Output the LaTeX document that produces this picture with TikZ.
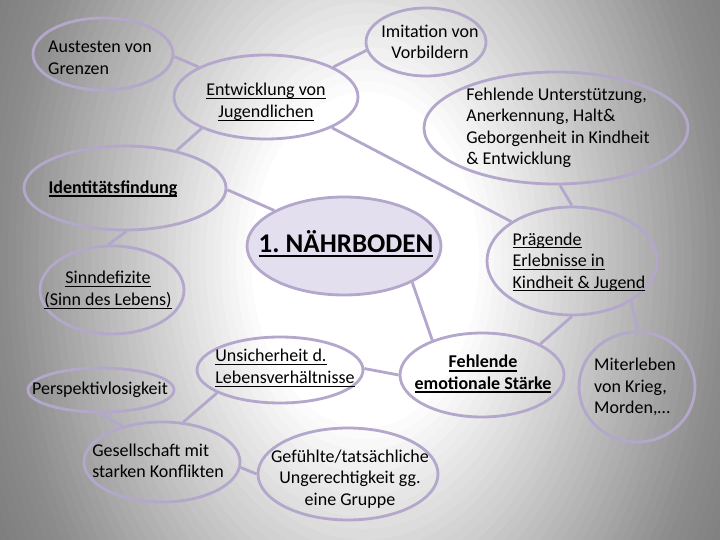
\documentclass[tikz,border=0pt]{standalone}
\usepackage{fontspec}
\setmainfont{Carlito}
\usetikzlibrary{shapes.geometric}
\definecolor{lav}{HTML}{B3A7CC}
\definecolor{lavfill}{HTML}{E4DFEE}
\newcommand{\myul}[3][1.1pt]{\setbox0\hbox{#3}\leavevmode\rlap{\rule[#2]{\wd0}{#1}}\box0}
\newcommand{\uln}[1]{\myul[1.1pt]{-3.4pt}{#1}}
\newcommand{\ulbold}[1]{\myul[2pt]{-4pt}{#1}}
\frenchspacing
\begin{document}
\begin{tikzpicture}[x=1pt,y=-1pt,
  bubble/.style={draw=lav, line width=2.8pt, ellipse, inner sep=0pt},
  conn/.style={draw=lav, line width=2.8pt},
  txt/.style={font=\fontsize{18}{21.5}\selectfont, inner sep=0pt, align=center},
  txtb/.style={font=\fontsize{18}{21.5}\selectfont\bfseries, inner sep=0pt, align=center}]
\useasboundingbox (0,0) rectangle (720,540);
% background: radial grey gradient
\begin{scope}
  \clip (0,0) rectangle (720,540);
  \fill[black!55] (0,0) rectangle (720,540);
  \foreach \i in {60,...,1} {
    \pgfmathsetmacro{\dd}{\i/50}
    \pgfmathsetmacro{\pct}{\dd<0.3 ? 0 : (\dd<0.95 ? 69.4*(\dd-0.3) : 45+39*(\dd-0.95))}
    \pgfmathsetmacro{\rx}{380*\dd}
    \pgfmathsetmacro{\ry}{560*\dd}
    \fill[black!\pct] (365,260) ellipse [x radius=\rx pt, y radius=\ry pt];
  }
\end{scope}
% ellipses
\node[bubble, minimum width=140pt, minimum height=72pt] (aus) at (103,54) {};
\node[bubble, minimum width=120pt, minimum height=68pt] (imi) at (426,42) {};
\node[bubble, minimum width=184pt, minimum height=84pt] (ent) at (266,97) {};
\node[bubble, minimum width=264pt, minimum height=112pt] (unt) at (556,128) {};
\node[bubble, minimum width=202pt, minimum height=84pt] (ide) at (125,188) {};
\node[bubble, fill=lavfill, minimum width=194pt, minimum height=98pt] (nb) at (344,246) {};
\node[bubble, minimum width=170pt, minimum height=108pt] (pra) at (572,261) {};
\node[bubble, minimum width=144pt, minimum height=88pt] (sin) at (112,290) {};
\node[bubble, minimum width=146pt, minimum height=44pt] (per) at (101,390) {};
\node[bubble, minimum width=166pt, minimum height=66pt] (uns) at (280,370) {};
\node[bubble, minimum width=164pt, minimum height=84pt] (fes) at (482,375) {};
\node[bubble, minimum width=116pt, minimum height=110pt] (mit) at (637,387) {};
\node[bubble, minimum width=156pt, minimum height=80pt] (ges) at (162,462) {};
\node[bubble, minimum width=180pt, minimum height=92pt] (gef) at (348,474) {};
% connectors
\draw[conn] (aus.-2) -- (ent.156);
\draw[conn] (ent.24) -- (imi.188);
\draw[conn] (ent.-25) -- (pra.147);
\draw[conn] (unt.-86) -- (pra.90);
\draw[conn] (ent.206) -- (ide.36);
\draw[conn] (ide.-1) -- (nb.153);
\draw[conn] (ide.-88) -- (sin.95);
\draw[conn] (nb.-28) -- (fes.145);
\draw[conn] (pra.-90) -- (fes.28);
\draw[conn] (pra.-34) -- (mit.90);
\draw[conn] (fes.180) -- (uns.1);
\draw[conn] (uns.200) -- (ges.62);
\draw[conn] (per.-92) -- (ges.138);
\draw[conn] (ges.-4) -- (gef.180);
% texts
\node[txt, align=left] (taus) at (100,58) {Austesten von\\Grenzen};
\node[txt] (timi) at (430,42) {Imitation von\\Vorbildern};
\node[txt] (tent) at (266,102) {\uln{Entwicklung von}\\\uln{Jugendlichen}};
\node[txt, align=left] (tunt) at (558,128) {Fehlende Unterstützung,\\Anerkennung, Halt\&\\Geborgenheit in Kindheit\\\& Entwicklung};
\node[txtb] (tide) at (113,189) {\ulbold{Identitätsfindung}};
\node[inner sep=0pt, font=\fontsize{27}{32}\selectfont\bfseries] (tnb) at (346,244) {\myul[2.6pt]{-5pt}{1. NÄHRBODEN}};
\node[txt, align=left] (tpra) at (579,262) {\uln{Prägende}\\\uln{Erlebnisse in}\\\uln{Kindheit \& Jugend}};
\node[txt] (tsin) at (108,290) {\uln{Sinndefizite}\\\uln{(Sinn des Lebens)}};
\node[txt] (tper) at (100,390) {Perspektivlosigkeit};
\node[txt, align=left] (tuns) at (285,368) {\uln{Unsicherheit d.}\\\uln{Lebensverhältnisse}};
\node[txtb] (tfes) at (483,374) {\ulbold{Fehlende}\\\ulbold{emotionale Stärke}};
\node[txt, align=left] (tmit) at (635,387) {Miterleben\\von Krieg,\\Morden,…};
\node[txt, align=left] (tges) at (158,461) {Gesellschaft mit\\starken Konflikten};
\node[txt] (tgef) at (350,479) {Gefühlte/tatsächliche\\Ungerechtigkeit gg.\\eine Gruppe};
\end{tikzpicture}
\end{document}
